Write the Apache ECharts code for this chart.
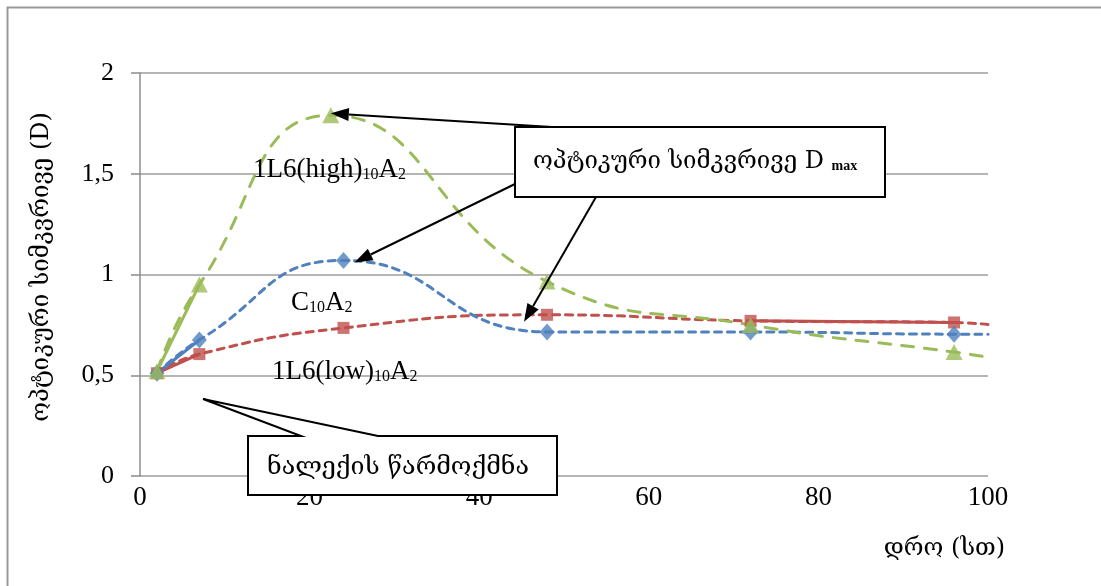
<!DOCTYPE html>
<html><head><meta charset="utf-8">
<script src="https://cdn.jsdelivr.net/npm/echarts@6/dist/echarts.min.js"></script>
<style>html,body{margin:0;padding:0;background:#fff}#c{width:1101px;height:586px}</style>
</head><body><div id="c"></div>
<script>
// ---- data ----
const hours = [2, 7, 24, 48, 72, 96, 100];
const hoursHigh = [2, 7, 22.5, 48, 72, 96, 100];
const highVals = [0.52, 0.95, 1.79, 0.965, 0.75, 0.615, 0.59];   // 1L6(high)10A2
const ctrlVals = [0.51, 0.675, 1.07, 0.715, 0.715, 0.704, 0.704]; // C10A2
const lowVals  = [0.51, 0.605, 0.735, 0.80, 0.77, 0.762, 0.752];  // 1L6(low)10A2
const xTicks = [0, 20, 40, 60, 80, 100];
const yTicks = [0, 0.5, 1, 1.5, 2];

const GREEN = '#9BBB59', BLUE = '#4F81BD', RED = '#C0504D';
const SERIF = '"Liberation Serif","DejaVu Serif",serif';

function pts(xs, ys, from, to) {
  const out = [];
  for (let i = from; i <= to; i++) out.push([xs[i], ys[i]]);
  return out;
}

const chart = echarts.init(document.getElementById('c'), null, { renderer: 'canvas' });

function lineSeries(data, color, dash, z) {
  return {
    type: 'line', data: data, smooth: 0.5, z: z,
    showSymbol: false, symbol: 'none',
    itemStyle: { color: color },
    lineStyle: { color: color, width: 3, type: dash ? dash : 'solid', cap: 'round' },
    animation: false
  };
}

chart.setOption({
  animation: false,
  grid: { left: 140, right: 113, top: 73, bottom: 110 },
  xAxis: {
    type: 'value', min: xTicks[0], max: xTicks[xTicks.length - 1], interval: 20,
    axisLine: { show: false }, axisTick: { show: false }, splitLine: { show: false },
    axisLabel: { color: '#000', fontFamily: SERIF, fontSize: 27, margin: 8 }
  },
  yAxis: {
    type: 'value', min: yTicks[0], max: yTicks[yTicks.length - 1], interval: 0.5,
    axisLine: { show: true, lineStyle: { color: '#8c8c8c', width: 1.5 } },
    axisTick: { show: true, length: 9, lineStyle: { color: '#8c8c8c', width: 1.5 } },
    splitLine: { show: true, lineStyle: { color: '#9c9c9c', width: 1.5 } },
    axisLabel: { color: '#000', fontFamily: SERIF, fontSize: 26, margin: 26,
      formatter: v => String(v).replace('.', ',') }
  },
  series: [
    lineSeries(pts(hours, lowVals, 0, 6), RED, [7, 6], 2),
    lineSeries(pts(hours, lowVals, 0, 1), RED, null, 3),
    lineSeries(pts(hours, lowVals, 4, 5), RED, null, 3),
    lineSeries(pts(hours, ctrlVals, 0, 6), BLUE, [7, 6], 2),
    lineSeries(pts(hours, ctrlVals, 0, 1), BLUE, null, 3),
    lineSeries(pts(hoursHigh, highVals, 0, 6), GREEN, [12, 11], 2),
    lineSeries(pts(hoursHigh, highVals, 0, 1), GREEN, null, 3),
    { type: 'scatter', data: pts(hours, lowVals, 0, 5), symbol: 'rect', symbolSize: 12, itemStyle: { color: RED }, z: 5 },
    { type: 'scatter', data: pts(hours, ctrlVals, 0, 5), symbol: 'diamond', symbolSize: [15, 17], itemStyle: { color: BLUE }, z: 5 },
    { type: 'scatter', data: pts(hoursHigh, highVals, 0, 5), symbol: 'triangle', symbolSize: [17, 16], itemStyle: { color: GREEN }, z: 6 }
  ]
});

function arrow(x1, y1, x2, y2) {
  const dx = x2 - x1, dy = y2 - y1, L = Math.hypot(dx, dy);
  const ux = dx / L, uy = dy / L, hl = 18, hw = 6.5;
  const bx = x2 - ux * hl, by = y2 - uy * hl;
  return [
    { type: 'line', shape: { x1: x1, y1: y1, x2: bx, y2: by }, style: { stroke: '#000', lineWidth: 2 }, z: 20 },
    { type: 'polygon', shape: { points: [[x2, y2], [bx - uy * hw, by + ux * hw], [bx + uy * hw, by - ux * hw]] }, style: { fill: '#000' }, z: 20 }
  ];
}

const pHigh = chart.convertToPixel({ gridIndex: 0 }, [hoursHigh[2], highVals[2]]);
const pCtrl = chart.convertToPixel({ gridIndex: 0 }, [hours[2], ctrlVals[2]]);
const pLow = chart.convertToPixel({ gridIndex: 0 }, [hours[3], lowVals[3]]);

const subRich = {
  a: { fontFamily: SERIF, fontSize: 27, color: '#000' },
  s: { fontFamily: SERIF, fontSize: 16, color: '#000', padding: [10, 0, 0, 0] }
};
const GEO = '"DejaVu Serif", serif';

const g = [
  { type: 'rect', shape: { x: 7.5, y: 7.5, width: 1200, height: 700 }, style: { fill: 'none', stroke: '#999', lineWidth: 2 }, z: -1, silent: true },
  { type: 'text', x: 42, y: 267, rotation: Math.PI / 2, style: { text: 'ოპტიკური სიმკვრივე (D)', font: '24px ' + GEO, fill: '#000', align: 'center', verticalAlign: 'middle' }, z: 10 },
  { type: 'text', x: 1005, y: 549, style: { text: 'დრო (სთ)', font: '24px ' + GEO, fill: '#000', align: 'right', verticalAlign: 'middle' }, z: 10 },
  { type: 'text', x: 253, y: 170, style: { text: '{a|1L6(high)}{s|10}{a|A}{s|2}', rich: subRich, verticalAlign: 'middle' }, z: 10 },
  { type: 'text', x: 291, y: 303, style: { text: '{a|C}{s|10}{a|A}{s|2}', rich: subRich, verticalAlign: 'middle' }, z: 10 },
  { type: 'text', x: 272, y: 372, style: { text: '{a|1L6(low)}{s|10}{a|A}{s|2}', rich: subRich, verticalAlign: 'middle' }, z: 10 },
  { type: 'rect', shape: { x: 515, y: 127, width: 370, height: 70 }, style: { fill: '#fff', stroke: '#000', lineWidth: 2 }, z: 15 },
  { type: 'text', x: 533, y: 162, style: { text: '{g|ოპტიკური სიმკვრივე D }{m|max}', verticalAlign: 'middle',
      rich: { g: { font: '24px ' + GEO, fill: '#000' }, m: { font: 'bold 14px "Liberation Serif", serif', fill: '#000', padding: [8, 0, 0, 0] } } }, z: 16 },
  { type: 'polygon', shape: { points: [[248, 436], [301, 436], [203, 399], [378, 436], [557, 436], [557, 495], [248, 495]] }, style: { fill: '#fff', stroke: '#000', lineWidth: 2 }, z: 15 },
  { type: 'text', x: 267, y: 467, style: { text: 'ნალექის წარმოქმნა', font: '25px ' + GEO, fill: '#000', verticalAlign: 'middle' }, z: 16 }
];
arrow(552, 127, pHigh[0], pHigh[1] - 2).forEach(e => g.push(e));
arrow(515, 184, pCtrl[0] + 11, pCtrl[1] + 2).forEach(e => g.push(e));
arrow(596, 197, pLow[0] - 23, pLow[1] + 7).forEach(e => g.push(e));

chart.setOption({ graphic: g });
</script>
</body></html>
